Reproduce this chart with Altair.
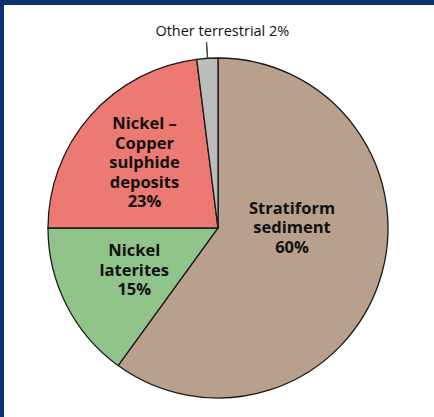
import altair as alt
import pandas as pd

# Share of deposits by type (percent), listed clockwise from 12 o'clock
categories = ["Stratiform sediment", "Nickel laterites", "Nickel – Copper sulphide deposits", "Other terrestrial"]
shares = [60, 15, 23, 2]
colors = ["#b8a08d", "#90c48b", "#ec7a72", "#bcbcbc"]
label_lines = [
    ["Stratiform", "sediment", "60%"],
    ["Nickel", "laterites", "15%"],
    ["Nickel –", "Copper", "sulphide", "deposits", "23%"],
    ["Other terrestrial 2%"],
]

df = pd.DataFrame({
    "category": categories,
    "share": shares,
    "order": list(range(len(categories))),
    "label": ["\n".join(l) for l in label_lines],
})

R = 170
CX, CY = 214, 223  # pie centre inside the plot area
LINE_H = 19.5

theta_scale = alt.Scale(domain=[0, 100])
color_scale = alt.Scale(domain=categories, range=colors)

pie = alt.Chart(df).mark_arc(radius=R, stroke="#1a1a1a", strokeWidth=1.3).encode(
    theta=alt.Theta("share:Q", stack=True, scale=theta_scale),
    order=alt.Order("order:Q"),
    color=alt.Color("category:N", scale=color_scale, legend=None),
    x=alt.value(CX),
    y=alt.value(CY),
)

# Cumulative positions so each label / leader can sit on its own slice
stacked = alt.Chart(df).transform_window(
    cum="sum(share)", sort=[alt.SortField("order")], frame=[None, 0]
).transform_calculate(
    mid="datum.cum - datum.share / 2",
    mid2="datum.cum - datum.share / 2 + 0.04",
)

font = "Open Sans"


def slice_label(idx, radius, offset, size, weight):
    n_lines = len(label_lines[idx])
    return stacked.transform_filter(alt.datum.category == categories[idx]).mark_text(
        radius=radius, thetaOffset=offset, font=font, fontSize=size,
        fontWeight=weight, lineBreak="\n", lineHeight=LINE_H, color="#111111",
        align="center", baseline="middle", dy=-(n_lines - 1) * LINE_H / 2,
    ).encode(
        theta=alt.Theta("mid:Q", scale=theta_scale),
        text="label:N",
        x=alt.value(CX),
        y=alt.value(CY),
    )


labels = (
    slice_label(0, 74, -0.314, 16.5, "bold")
    + slice_label(1, 94, 0.0, 16.5, "bold")
    + slice_label(2, 98, 0.0, 16.5, "bold")
    + slice_label(3, 196, 0.085, 14.5, "normal")
)

# Leader line from the small slice to its label
leader = stacked.transform_filter(alt.datum.category == categories[3]).mark_arc(
    radius=R, radius2=186, fill="#333333", stroke="#333333", strokeWidth=0.8
).encode(
    theta=alt.Theta("mid:Q", scale=theta_scale),
    theta2="mid2:Q",
    x=alt.value(CX),
    y=alt.value(CY),
)

chart = (pie + leader + labels).properties(
    width=430,
    height=412,
    padding={"top": 5, "left": 4, "right": 0, "bottom": 0},
    background="#0b3270",
).configure_view(fill="white", strokeWidth=0)

chart.save("out.html", embed_options={"renderer": "svg", "actions": False})
